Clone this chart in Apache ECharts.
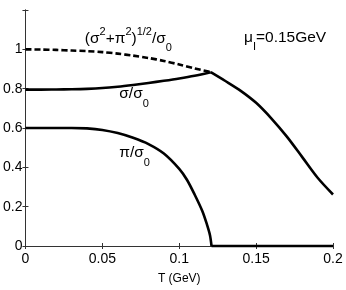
<!DOCTYPE html>
<html>
<head>
<meta charset="utf-8">
<script src="https://cdn.jsdelivr.net/npm/echarts@6/dist/echarts.min.js"></script>
<style>html,body{margin:0;padding:0;background:#fff}#c{width:346px;height:290px}</style>
</head>
<body>
<div id="c"></div>
<script>
// Data
const sigmaT = [0, 0.01, 0.02, 0.03, 0.04, 0.05, 0.06, 0.07, 0.08, 0.09, 0.1, 0.11, 0.1205];
const sigmaV = [0.795, 0.795, 0.796, 0.797, 0.799, 0.803, 0.810, 0.819, 0.829, 0.840, 0.852, 0.866, 0.884];
const sigmaHighT = [0.1205, 0.13, 0.14, 0.15, 0.16, 0.17, 0.18, 0.19, 0.2];
const sigmaHighV = [0.884, 0.839, 0.789, 0.728, 0.648, 0.556, 0.452, 0.347, 0.262];
const totalT = [0, 0.01, 0.02, 0.03, 0.04, 0.05, 0.06, 0.07, 0.08, 0.09, 0.1, 0.11, 0.1205];
const totalV = [1.0, 0.999, 0.997, 0.994, 0.991, 0.986, 0.978, 0.968, 0.956, 0.941, 0.923, 0.903, 0.884];
const piT = [0, 0.01, 0.02, 0.03, 0.04, 0.05, 0.06, 0.07, 0.08, 0.09, 0.1, 0.105, 0.11, 0.115, 0.118, 0.12, 0.121];
const piV = [0.6, 0.6, 0.6, 0.6, 0.598, 0.590, 0.574, 0.550, 0.518, 0.470, 0.392, 0.337, 0.262, 0.178, 0.110, 0.055, 0];
const piZeroT = [0.121, 0.2];
const piZeroV = [0, 0];
const xTicks = [0, 0.05, 0.1, 0.15, 0.2];
const yTicks = [0, 0.2, 0.4, 0.6, 0.8, 1];

const zip = (a, b) => a.map((x, i) => [x, b[i]]);
const FONT = 'Liberation Sans, Arial, Helvetica, sans-serif';
const chart = echarts.init(document.getElementById('c'), null, {renderer: 'canvas'});
const axisLine = {show: true, lineStyle: {color: '#333', width: 1}};
const tick = {show: true, inside: true, length: 3, lineStyle: {color: '#333'}};
const lineSeries = (data, type, smooth) => ({
  type: 'line', data: data, showSymbol: false, symbol: 'none', clip: false,
  smooth: smooth,
  lineStyle: {color: '#000', width: 2.6, type: type, cap: 'butt', join: 'round'},
  z: 3
});
chart.setOption({
  animation: false,
  grid: {left: 22, right: 13, top: 10, bottom: 34},
  xAxis: [{
    type: 'value', min: 0, max: 0.2, interval: 0.05,
    axisLine: axisLine, axisTick: tick, splitLine: {show: false},
    axisLabel: {color: '#000', fontSize: 14, fontFamily: FONT, margin: 6,
      formatter: v => xTicks.some(t => Math.abs(t - v) < 1e-9) ? String(+v.toFixed(3)) : ''},
    name: 'T (GeV)', nameLocation: 'middle', nameGap: 27,
    nameTextStyle: {color: '#000', fontSize: 12, fontFamily: FONT}
  }, {
    type: 'value', position: 'top', min: 0, max: 0.2, interval: 0.05,
    axisLine: axisLine, axisTick: tick, axisLabel: {show: false}, splitLine: {show: false}
  }],
  yAxis: [{
    type: 'value', min: 0, max: 1.2, interval: 0.2,
    axisLine: axisLine, axisTick: tick, splitLine: {show: false},
    axisLabel: {color: '#000', fontSize: 14, fontFamily: FONT, margin: 3,
      formatter: v => yTicks.some(t => Math.abs(t - v) < 1e-9) ? String(+v.toFixed(2)) : ''}
  }, {
    type: 'value', position: 'right', min: 0, max: 1.2, interval: 0.2,
    axisLine: axisLine, axisTick: tick, axisLabel: {show: false}, splitLine: {show: false}
  }],
  series: [
    lineSeries(zip(totalT, totalV), [6, 3], 0.3),
    lineSeries(zip(sigmaT, sigmaV), 'solid', 0.3),
    lineSeries(zip(sigmaHighT, sigmaHighV), 'solid', 0.3),
    lineSeries(zip(piT, piV), 'solid', 0.3),
    lineSeries(zip(piZeroT, piZeroV), 'solid', false)
  ]
});

const rich = {
  m: {fontSize: 15.5, fontFamily: FONT, color: '#000', lineHeight: 30, verticalAlign: 'middle'},
  sup: {fontSize: 11, fontFamily: FONT, color: '#000', lineHeight: 11, verticalAlign: 'top', padding: [3, 0, 0, 0]},
  sub: {fontSize: 11, fontFamily: FONT, color: '#000', lineHeight: 9, verticalAlign: 'bottom'}
};
const label = (t, v, text) => {
  const p = chart.convertToPixel({gridIndex: 0}, [t, v]);
  return {type: 'text', x: p[0], y: p[1], z: 10,
    style: {text: text, rich: rich, align: 'left', verticalAlign: 'middle'}};
};
chart.setOption({
  graphic: [
    label(0.0386, 1.053, '{m|(σ}{sup|2}{m|+π}{sup|2}{m|)}{sup|1/2}{m|/σ}{sub|0}'),
    label(0.0610, 0.772, '{m|σ/σ}{sub|0}'),
    label(0.0610, 0.473, '{m|π/σ}{sub|0}'),
    label(0.1421, 1.060, '{m|μ}{sub|I}{m|=0.15GeV}')
  ]
});
</script>
</body>
</html>
